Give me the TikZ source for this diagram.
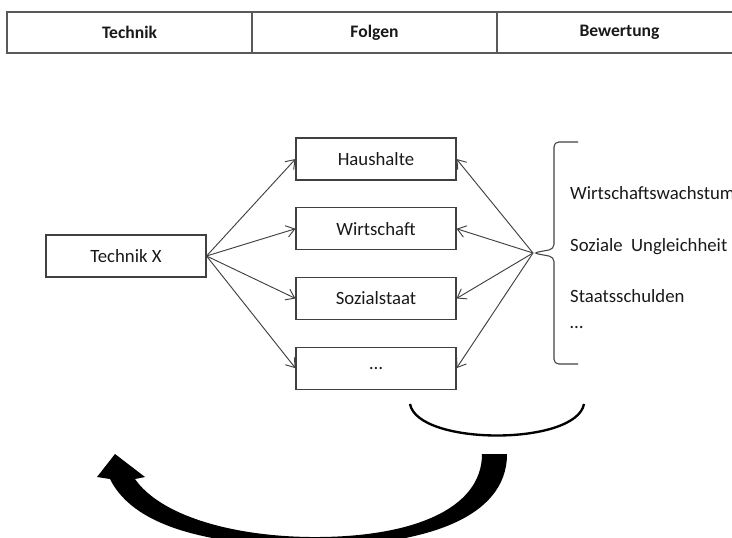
\documentclass[tikz,border=0pt]{standalone}
\usepackage{fontspec}
\setmainfont{Carlito}
\usetikzlibrary{positioning,arrows.meta}

\begin{document}
\begin{tikzpicture}[x=0.03cm,y=-0.03cm,
                every node/.append style = {font=\fontsize{16}{19}\selectfont, text=black!90},
                kopf/.style = {draw=black!65, line width=1.1pt, minimum width=7.35cm, minimum height=1.23cm, font=\fontsize{15}{18}\selectfont\bfseries},
                kasten/.style = {draw=black!75, line width=0.9pt, minimum width=4.8cm, minimum height=1.26cm, inner sep=0pt},
                pfeil/.style = {draw=black!75, line width=0.8pt, -{Straight Barb[length=7pt,width=10pt]}}]
                \useasboundingbox (0,0) rectangle (732,538);
                % Kopfzeile
                \node[kopf] (technik) at (129.5,32.5) {Technik};
                \node[kopf] (folgen) at (374.5,32.5) {Folgen};
                \node[kopf] (bewertung) at (619.5,32.5) {Bewertung};
                % Technik und Folgen
                \node[kasten] (tx) at (126,256) {Technik X};
                \node[kasten] (hh) at (376,159) {Haushalte};
                \node[kasten, below=0.8cm of hh] (wi) {Wirtschaft};
                \node[kasten, below=0.8cm of wi] (so) {Sozialstaat};
                \node[kasten, below=0.8cm of so] (dd) {\dots};
                % Bewertung
                \coordinate (spitze) at (533,253);
                \draw[black!75, line width=0.9pt, rounded corners=4pt] (578,142) -- (554,142) -- (554,249) -- (spitze) -- (554,257) -- (554,364) -- (578,364);
                \node[anchor=base west] (wachstum) at (566,199) {Wirtschaftswachstum};
                \node[anchor=base west] (ungleich) at (566,251) {Soziale\ \ Ungleichheit};
                \node[anchor=base west] (schulden) at (566,302.5) {Staatsschulden};
                \node[anchor=base west] (rest) at (566,328) {\dots};
                \foreach \n in {hh,wi,so,dd} {
                    \draw[pfeil] (tx.east) -- (\n.west);
                    \draw[pfeil] (spitze) -- (\n.east);
                }
                % Rueckkopplung
                \draw[line width=2pt] (410,404) .. controls (418,446) and (576,446) .. (584,404);
                \fill (482,454) -- (507,454) .. controls (507,520) and (420,545) .. (320,546)
                    .. controls (220,547) and (135,530) .. (110,479) -- (97,477) -- (115,454) -- (145,477) -- (135,479)
                    .. controls (160,515) and (230,536) .. (310,537) .. controls (410,538) and (482,510) .. (482,454) -- cycle;
            \end{tikzpicture}
\end{document}
